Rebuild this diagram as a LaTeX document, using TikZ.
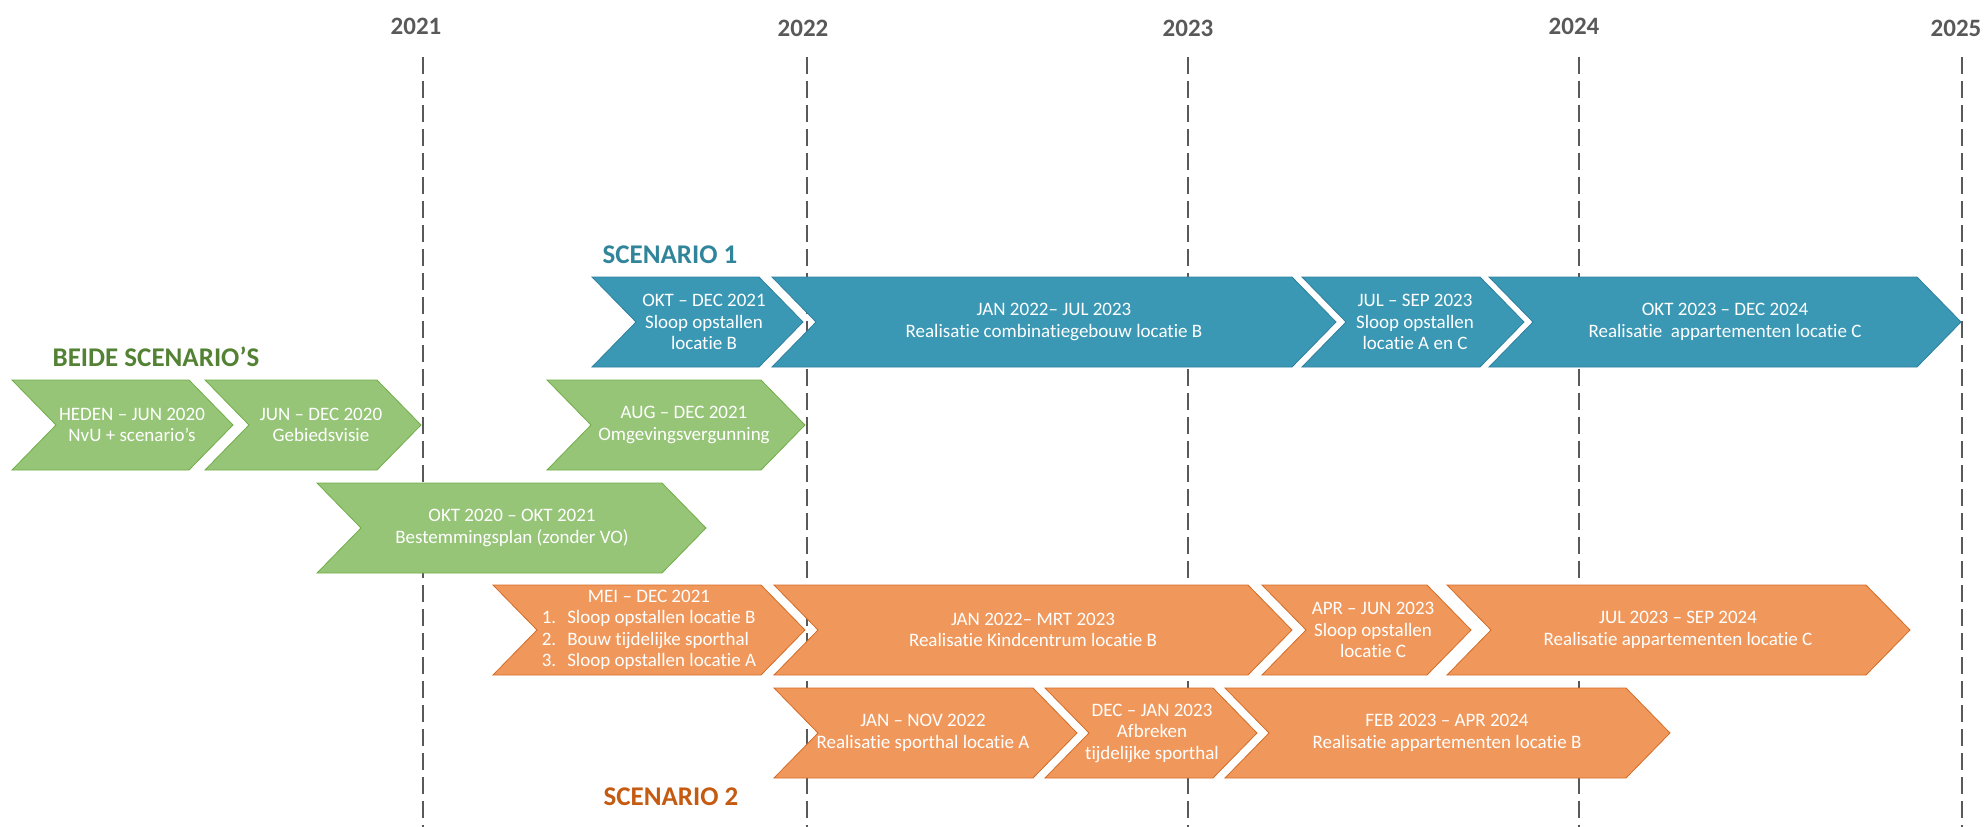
\documentclass[tikz,border=0pt]{standalone}
\usepackage{fontspec}
\setmainfont[Ligatures={TeX,NoCommon}]{Carlito}

\definecolor{lijngrijs}{RGB}{89,89,89}
\definecolor{blauw}{RGB}{58,152,181}
\definecolor{blauwrand}{RGB}{47,128,158}
\definecolor{blauwkop}{RGB}{49,133,155}
\definecolor{groen}{RGB}{150,197,120}
\definecolor{groenrand}{RGB}{112,173,71}
\definecolor{groenkop}{RGB}{84,130,53}
\definecolor{oranje}{RGB}{240,152,92}
\definecolor{oranjerand}{RGB}{212,108,38}
\definecolor{oranjekop}{RGB}{197,90,17}

\tikzset{
  yearline/.style={draw=lijngrijs, line width=2.2pt, dash pattern=on 17pt off 7pt},
  yearlabel/.style={text=lijngrijs, font=\fontsize{25}{28}\selectfont\bfseries},
  blauwchev/.style={fill=blauw, draw=blauwrand, line width=0.8pt, line join=miter},
  groenchev/.style={fill=groen, draw=groenrand, line width=0.8pt, line join=miter},
  oranjechev/.style={fill=oranje, draw=oranjerand, line width=0.8pt, line join=miter},
  chevtext/.style={text=white, align=center, inner sep=0pt, font=\fontsize{19}{21.5}\selectfont},
  kop/.style={font=\fontsize{27}{30}\selectfont\bfseries, inner sep=0pt}
}

\begin{document}
\begin{tikzpicture}[x=1pt, y=-1pt]
  \useasboundingbox (0,0) rectangle (1986,827);

  % jaarlijnen
  \foreach \x in {423,807,1188,1579,1962}
    \draw[yearline] (\x,57) -- (\x,827);

  \node[yearlabel] (j2021) at (416,26) {2021};
  \node[yearlabel] (j2022) at (803,28) {2022};
  \node[yearlabel] (j2023) at (1188,28) {2023};
  \node[yearlabel] (j2024) at (1574,26) {2024};
  \node[yearlabel] (j2025) at (1956,28) {2025};

  % chevrons: links/punt/midden
  \foreach \l/\r/\m in {592/803/322, 772/1336/322, 1302/1524/322, 1489/1961/322}
    \draw[blauwchev] (\l,\m-45) -- (\r-44,\m-45) -- (\r,\m) -- (\r-44,\m+45)
      -- (\l,\m+45) -- (\l+44,\m) -- cycle;
  \foreach \l/\r/\m in {12/233/425, 205/421/425, 547/805/425, 317/706/528}
    \draw[groenchev] (\l,\m-45) -- (\r-44,\m-45) -- (\r,\m) -- (\r-44,\m+45)
      -- (\l,\m+45) -- (\l+44,\m) -- cycle;
  \foreach \l/\r/\m in {493/805/630, 774/1292/630, 1262/1471/630, 1447/1910/630,
                        774/1077/733, 1045/1257/733, 1225/1670/733}
    \draw[oranjechev] (\l,\m-45) -- (\r-44,\m-45) -- (\r,\m) -- (\r-44,\m+45)
      -- (\l,\m+45) -- (\l+44,\m) -- cycle;

  % koppen
  \node[kop, text=blauwkop] (sc1) at (670,255) {SCENARIO 1};
  \node[kop, text=groenkop] (beide) at (156,357) {BEIDE SCENARIO’S};
  \node[kop, text=oranjekop] (sc2) at (671,797) {SCENARIO 2};

  % scenario 1
  \node[chevtext] (b1) at (704,322) {OKT – DEC 2021\\Sloop opstallen\\locatie B};
  \node[chevtext] (b2) at (1054,322) {JAN 2022– JUL 2023\\Realisatie combinatiegebouw locatie B};
  \node[chevtext] (b3) at (1415,322) {JUL – SEP 2023\\Sloop opstallen\\locatie A en C};
  \node[chevtext] (b4) at (1725,322) {OKT 2023 – DEC 2024\\Realisatie\ \ appartementen locatie C};

  % beide scenario's
  \node[chevtext] (g1) at (132,425) {HEDEN – JUN 2020\\NvU + scenario’s};
  \node[chevtext] (g2) at (321,425) {JUN – DEC 2020\\Gebiedsvisie};
  \node[chevtext] (g3) at (684,425) {AUG – DEC 2021\\Omgevingsvergunning};
  \node[chevtext] (g4) at (512,528) {OKT 2020 – OKT 2021\\Bestemmingsplan (zonder VO)};

  % scenario 2
  \node[chevtext] (o1) at (649,630) {\begin{tabular}{@{}l@{\hspace{11pt}}l@{}}
    \multicolumn{2}{@{}c@{}}{MEI – DEC 2021}\\
    1. & Sloop opstallen locatie B\\
    2. & Bouw tijdelijke sporthal\\
    3. & Sloop opstallen locatie A
  \end{tabular}};
  \node[chevtext] (o2) at (1033,630) {JAN 2022– MRT 2023\\Realisatie Kindcentrum locatie B};
  \node[chevtext] (o3) at (1373,630) {APR – JUN 2023\\Sloop opstallen\\locatie C};
  \node[chevtext] (o4) at (1678,630) {JUL 2023 – SEP 2024\\Realisatie appartementen locatie C};
  \node[chevtext] (o5) at (923,733) {JAN – NOV 2022\\Realisatie sporthal locatie A};
  \node[chevtext] (o6) at (1152,733) {DEC – JAN 2023\\Afbreken\\tijdelijke sporthal};
  \node[chevtext] (o7) at (1447,733) {FEB 2023 – APR 2024\\Realisatie appartementen locatie B};

\end{tikzpicture}
\end{document}
